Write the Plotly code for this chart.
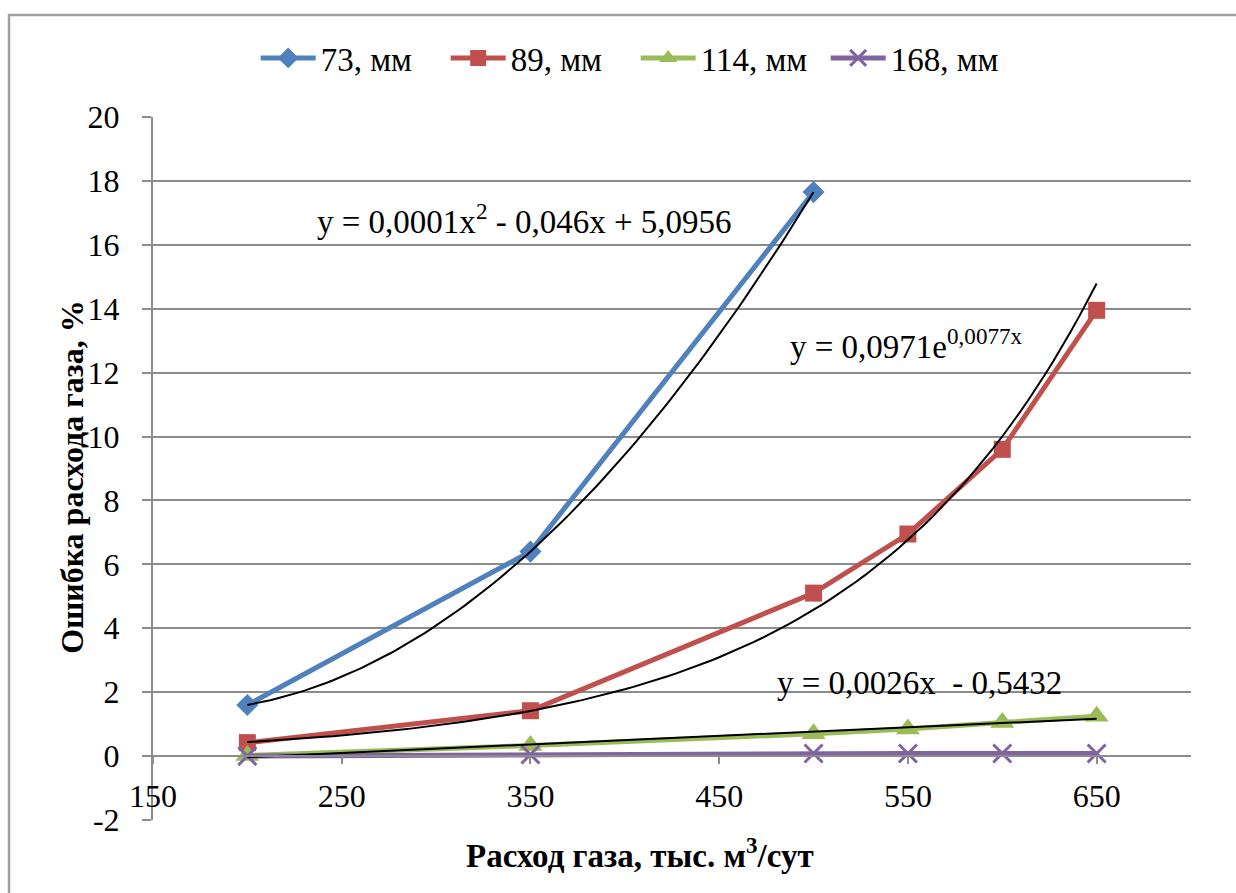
import numpy as np
import plotly.graph_objects as go

# ---- data ----
x73 = [200, 350, 500]
y73 = [1.6, 6.4, 17.65]

x89 = [200, 350, 500, 550, 600, 650]
y89 = [0.42, 1.42, 5.1, 6.95, 9.6, 13.95]

x114 = [200, 350, 500, 550, 600, 650]
y114 = [0.02, 0.33, 0.7, 0.85, 1.05, 1.25]

x168 = [200, 350, 500, 550, 600, 650]
y168 = [0.0, 0.05, 0.08, 0.08, 0.08, 0.08]

series_names = ["73, мм", "89, мм", "114, мм", "168, мм"]
x_ticks = [150, 250, 350, 450, 550, 650]
y_ticks = list(range(-2, 21, 2))
y_ticktext = [str(v) for v in y_ticks]

eq_quad = "y = 0,0001x<sup>2</sup> - 0,046x + 5,0956"
eq_exp = "y = 0,0971e<sup>0,0077x</sup>"
eq_lin = "y = 0,0026x  - 0,5432"

# ---- styles ----
FONT = "Liberation Serif, Times New Roman, serif"
BLUE = "#4F81BD"
RED = "#C0504D"
GREEN = "#9BBB59"
PURPLE = "#8064A2"
GRID = "#8C8C8C"

fig = go.Figure()

fig.add_trace(go.Scatter(x=x73, y=y73, name=series_names[0], mode="lines+markers",
                         line=dict(color=BLUE, width=5),
                         marker=dict(symbol="diamond", size=17, color=BLUE)))
fig.add_trace(go.Scatter(x=x89, y=y89, name=series_names[1], mode="lines+markers",
                         line=dict(color=RED, width=5),
                         marker=dict(symbol="square", size=17, color=RED)))
fig.add_trace(go.Scatter(x=x114, y=y114, name=series_names[2], mode="lines+markers",
                         line=dict(color=GREEN, width=5),
                         marker=dict(symbol="triangle-up", size=21, color=GREEN)))
fig.add_trace(go.Scatter(x=x168, y=y168, name=series_names[3], mode="lines+markers",
                         line=dict(color=PURPLE, width=5),
                         marker=dict(symbol="x-thin", size=18, color=PURPLE,
                                     line=dict(color=PURPLE, width=3))))

# ---- trendlines computed from the data ----
xq = np.linspace(min(x73), max(x73), 100)
cq = np.polyfit(x73, y73, 2)
fig.add_trace(go.Scatter(x=xq, y=np.polyval(cq, xq), mode="lines", showlegend=False,
                         line=dict(color="black", width=2), hoverinfo="skip"))

xe = np.linspace(min(x89), max(x89), 100)
ce = np.polyfit(x89, np.log(y89), 1)
fig.add_trace(go.Scatter(x=xe, y=np.exp(np.polyval(ce, xe)), mode="lines", showlegend=False,
                         line=dict(color="black", width=2), hoverinfo="skip"))

xl = np.linspace(min(x114), max(x114), 50)
cl = np.polyfit(x114, y114, 1)
fig.add_trace(go.Scatter(x=xl, y=np.polyval(cl, xl), mode="lines", showlegend=False,
                         line=dict(color="black", width=2), hoverinfo="skip"))

ann_font = dict(family=FONT, size=33, color="black")
fig.add_annotation(x=347, y=16.8, text=eq_quad, showarrow=False, font=ann_font)
fig.add_annotation(x=549, y=12.9, text=eq_exp, showarrow=False, font=ann_font)
fig.add_annotation(x=556, y=2.3, text=eq_lin, showarrow=False, font=ann_font)

# axis titles
fig.add_annotation(xref="paper", yref="paper", x=0.469, y=-0.047, yanchor="middle",
                   text="<b>Расход газа, тыс. м<sup>3</sup>/сут</b>", showarrow=False,
                   font=dict(family=FONT, size=33, color="black"))
fig.add_annotation(xref="paper", yref="paper", x=-0.078, y=0.487, xanchor="center",
                   text="<b>Ошибка расхода газа, %</b>", textangle=-90, showarrow=False,
                   font=dict(family=FONT, size=32, color="black"))

# outer border
fig.add_shape(type="rect", xref="paper", yref="paper",
              x0=-0.1387, x1=1.2, y0=-0.2, y1=1.145,
              line=dict(color="#A0A0A0", width=2.5), fillcolor="rgba(0,0,0,0)")

fig.update_layout(
    width=1236, height=893,
    margin=dict(l=153, r=45, t=117, b=73),
    paper_bgcolor="white", plot_bgcolor="white",
    font=dict(family=FONT, size=32, color="black"),
    showlegend=True,
    legend=dict(orientation="h", x=0.465, xanchor="center", y=1.084, yanchor="middle",
                font=dict(family=FONT, size=33), itemwidth=55, tracegroupgap=0,
                entrywidth=120, entrywidthmode="pixels",
                bgcolor="rgba(0,0,0,0)"),
    xaxis=dict(range=[150, 700], tickvals=x_ticks, anchor="free", position=2 / 22,
               showgrid=False, zeroline=False, showline=True, linecolor=GRID, linewidth=2,
               ticks="outside", ticklen=7, tickwidth=2, tickcolor=GRID,
               tickfont=dict(family=FONT, size=32), ticklabelstandoff=5),
    yaxis=dict(range=[-2, 20], tickvals=y_ticks, ticktext=y_ticktext, domain=[0, 1],
               showgrid=True, gridcolor=GRID, gridwidth=2, zeroline=False,
               showline=True, linecolor=GRID, linewidth=2,
               ticks="outside", ticklen=9, tickwidth=2, tickcolor=GRID,
               tickfont=dict(family=FONT, size=32), ticklabelstandoff=16),
)

fig.write_html("out.html")
